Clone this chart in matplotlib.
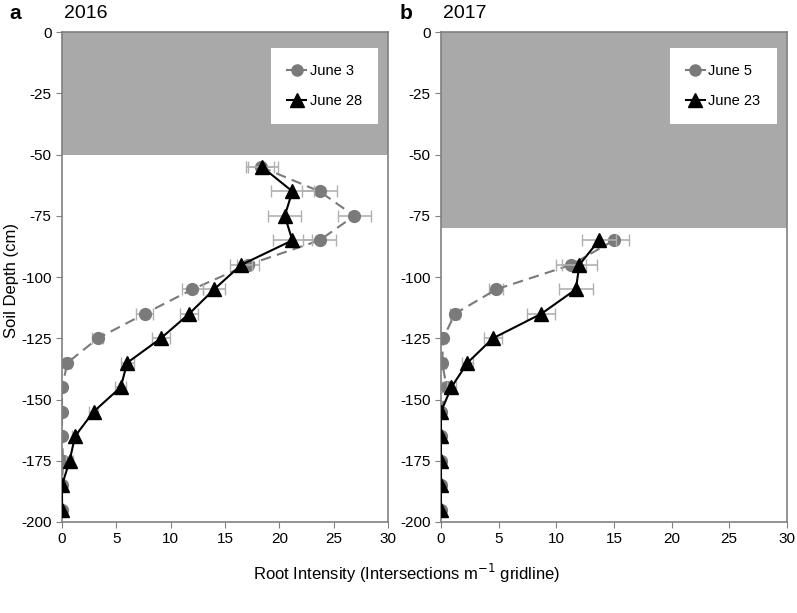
import matplotlib
matplotlib.use("Agg")
from matplotlib import pyplot as plt
from matplotlib.lines import Line2D
import numpy as np

plt.rcParams['font.family'] = ['Liberation Sans', 'DejaVu Sans']
plt.rcParams['axes.unicode_minus'] = False

# depths (cm)
depth = [-55, -65, -75, -85, -95, -105, -115, -125, -135, -145, -155, -165, -175, -185, -195]
depth_b = [-85, -95, -105, -115, -125, -135, -145, -155, -165, -175, -185, -195]

# 2016
june3 = [18.3, 23.7, 26.9, 23.7, 17.1, 12.0, 7.6, 3.3, 0.5, 0.0, 0.0, 0.0, 0.1, 0.0, 0.0]
june3_err = [1.2, 1.6, 1.5, 1.5, 1.0, 1.0, 0.8, 0.5, 0.3, 0.1, 0.1, 0.1, 0.8, 0.1, 0.1]
june28 = [18.4, 21.2, 20.5, 21.2, 16.5, 14.0, 11.7, 9.1, 6.0, 5.4, 2.9, 1.2, 0.7, 0.0, 0.0]
june28_err = [1.5, 2.0, 1.5, 1.8, 1.0, 1.0, 0.8, 0.8, 0.6, 0.5, 0.4, 0.3, 0.3, 0.0, 0.0]

# 2017
june5 = [15.0, 11.3, 4.8, 1.2, 0.2, 0.1, 0.5, 0.0, 0.0, 0.0, 0.0, 0.0]
june5_err = [1.3, 1.3, 0.6, 0.4, 0.2, 0.3, 0.4, 0.0, 0.0, 0.0, 0.0, 0.0]
june23 = [13.7, 12.0, 11.7, 8.7, 4.5, 2.3, 0.9, 0.0, 0.0, 0.0, 0.0, 0.0]
june23_err = [1.5, 1.5, 1.5, 1.2, 0.8, 0.5, 0.4, 0.0, 0.0, 0.0, 0.0, 0.0]

shade_a = -50
shade_b = -80

spine_col = "#808080"
err_col = "#b0b0b0"
gray_line = "#7a7a7a"


def draw_panel(ax, d, x1, e1, l1, x2, e2, l2, shade):
    ax.axhspan(shade, 0, color="#a9a9a9", zorder=0, lw=0)
    ax.errorbar(x1, d, xerr=e1, color=gray_line, ls=(0, (5, 3)), lw=1.5,
                marker="o", ms=8.5, ecolor=err_col, elinewidth=1.2, capsize=4,
                zorder=2)
    ax.errorbar(x2, d, xerr=e2, color="black", ls="-", lw=1.5,
                marker="^", ms=10, ecolor=err_col, elinewidth=1.2, capsize=4,
                zorder=3)
    ax.set_xlim(0, 30)
    ax.set_ylim(-200, 0)
    ax.set_xticks(np.arange(0, 31, 5))
    ax.set_yticks(np.arange(-200, 1, 25))
    for s in ax.spines.values():
        s.set_color(spine_col)
        s.set_linewidth(1.2)
    ax.tick_params(colors=spine_col, labelcolor="black", labelsize=11, length=4)
    handles = [Line2D([], [], color=gray_line, marker="o", ms=8, lw=1.5),
               Line2D([], [], color="black", marker="^", ms=10, lw=1.5)]
    leg = ax.legend(handles, [l1, l2], loc="upper right", bbox_to_anchor=(0.97, 0.968),
                    frameon=True, fancybox=False, fontsize=10.5, handlelength=1.3,
                    handletextpad=0.25, borderpad=1.1, labelspacing=1.1,
                    borderaxespad=0)
    leg.get_frame().set_edgecolor("none")
    leg.get_frame().set_facecolor("white")
    leg.get_frame().set_alpha(1)


fig = plt.figure(figsize=(7.97, 6.13), dpi=100)
ax1 = fig.add_axes([0.0778, 0.1485, 0.409, 0.799])
ax2 = fig.add_axes([0.5533, 0.1485, 0.434, 0.799])

draw_panel(ax1, depth, june3, june3_err, "June 3", june28, june28_err, "June 28", shade_a)
draw_panel(ax2, depth_b, june5, june5_err, "June 5", june23, june23_err, "June 23", shade_b)

fig.text(0.015, 0.543, "Soil Depth (cm)", fontsize=12, rotation=90,
         ha="center", va="center")
fig.text(0.107, 0.978, "2016", fontsize=14, ha="center", va="center")
fig.text(0.583, 0.978, "2017", fontsize=14, ha="center", va="center")
fig.text(0.019, 0.978, "a", fontsize=15, fontweight="bold", ha="center", va="center")
fig.text(0.51, 0.978, "b", fontsize=15, fontweight="bold", ha="center", va="center")
fig.text(0.51, 0.065, "Root Intensity (Intersections m$^{-1}$ gridline)", fontsize=12,
         ha="center", va="center")

fig.savefig("out.png", dpi=100)
